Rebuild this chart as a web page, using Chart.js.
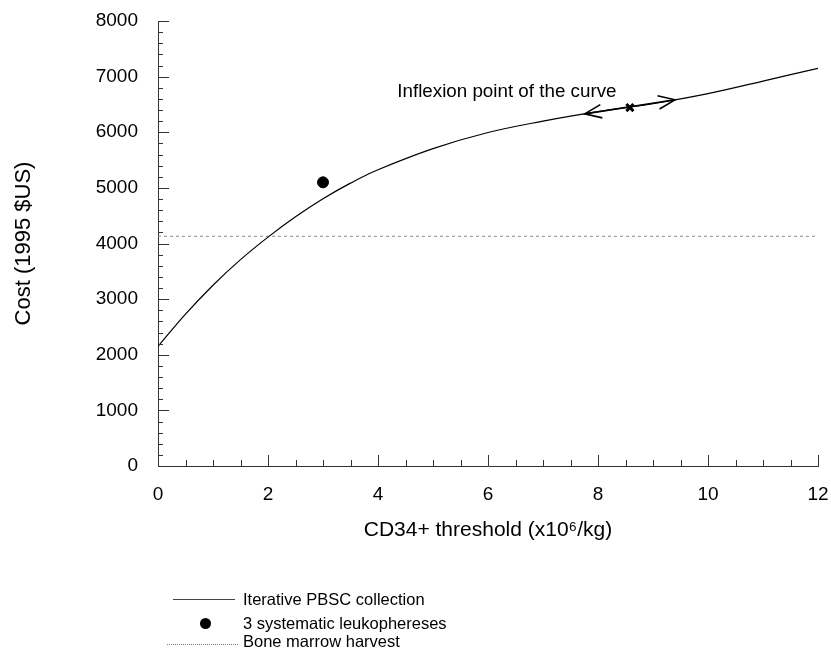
<!DOCTYPE html>
<html><head><meta charset="utf-8">
<script src="https://cdn.jsdelivr.net/npm/chart.js@4.4.1/dist/chart.umd.min.js"></script>
<style>
html,body{margin:0;padding:0;background:#fff}
#wrap{position:relative;width:831px;height:649px;overflow:hidden}
canvas{display:block}
.lg{position:absolute;font-family:'Liberation Sans',Arial,sans-serif;font-size:16.5px;line-height:20px;color:#000;white-space:nowrap}
</style></head><body>
<div id="wrap">
<canvas id="c" width="831" height="649"></canvas>
<div style="position:absolute;left:173px;top:599px;width:62px;border-top:1px solid #444"></div>
<span class="lg" style="left:243px;top:589px">Iterative PBSC collection</span>
<div style="position:absolute;left:200px;top:618px;width:11px;height:11px;border-radius:50%;background:#000"></div>
<span class="lg" style="left:243px;top:613px">3 systematic leukophereses</span>
<div style="position:absolute;left:167px;top:644px;width:71px;border-top:1px dotted #777"></div>
<span class="lg" style="left:243px;top:631px">Bone marrow harvest</span>
</div>
<script>
// ---- data ----
const costX = [0, 0.5, 1, 1.5, 2, 2.5, 3, 3.5, 4, 5, 6, 7, 8, 9, 10, 11, 12];
const costY = [2150, 2730, 3250, 3710, 4115, 4480, 4805, 5085, 5325, 5705, 5995, 6200, 6370, 6515, 6695, 6920, 7150];
const leukX = [3];
const leukY = [5100];
const marrowX = [0, 12];
const marrowY = [4130, 4130];
const arrowX = [7.76, 9.40];
const arrowY = [6331, 6583];
const inflexX = [8.58];
const inflexY = [6444];
const noteX = [4.35];
const noteY = [6730];
const noteText = ['Inflexion point of the curve'];
const xTickLabels = [0, 2, 4, 6, 8, 10, 12];
const yTickLabels = [0, 1000, 2000, 3000, 4000, 5000, 6000, 7000, 8000];
const seriesNames = ['Iterative PBSC collection', '3 systematic leukophereses', 'Bone marrow harvest'];

const FONT = "'Liberation Sans', Arial, sans-serif";
const zip = (xs, ys) => xs.map((x, i) => ({x, y: ys[i]}));

const extras = {
  id: 'extras',
  afterDatasetsDraw(chart) {
    const ctx = chart.ctx;
    const xs = chart.scales.x, ys = chart.scales.y;
    const meta = chart.getDatasetMeta(3);
    const p0 = meta.data[0], p1 = meta.data[1];
    const head = (tip, from) => {
      const ang = Math.atan2(tip.y - from.y, tip.x - from.x);
      const L = 18, a = 0.38;
      ctx.beginPath();
      ctx.moveTo(tip.x - L * Math.cos(ang - a), tip.y - L * Math.sin(ang - a));
      ctx.lineTo(tip.x, tip.y);
      ctx.lineTo(tip.x - L * Math.cos(ang + a), tip.y - L * Math.sin(ang + a));
      ctx.stroke();
    };
    ctx.save();
    ctx.strokeStyle = '#000'; ctx.lineWidth = 1.6; ctx.lineJoin = 'miter';
    head(p0, p1); head(p1, p0);
    ctx.fillStyle = '#000';
    ctx.font = '18.8px ' + FONT;
    ctx.textAlign = 'left'; ctx.textBaseline = 'middle';
    noteText.forEach((t, i) => ctx.fillText(t, xs.getPixelForValue(noteX[i]), ys.getPixelForValue(noteY[i])));
    ctx.restore();
  },
  afterDraw(chart) {
    const ctx = chart.ctx;
    const xs = chart.scales.x, ys = chart.scales.y;
    const a = chart.chartArea;
    ctx.save();
    ctx.strokeStyle = '#333'; ctx.lineWidth = 1;
    ctx.beginPath();
    for (let v = 0; v <= 8000; v += 200) {
      const y = Math.round(ys.getPixelForValue(v)) + 0.5;
      const len = v % 1000 === 0 ? 11 : 5;
      ctx.moveTo(a.left, y); ctx.lineTo(a.left + len, y);
    }
    for (let v = 0; v <= 12; v += 0.5) {
      const x = Math.round(xs.getPixelForValue(v)) + 0.5;
      const len = v % 2 === 0 ? 11 : 6;
      ctx.moveTo(x, a.bottom); ctx.lineTo(x, a.bottom - len);
    }
    ctx.stroke();
    ctx.restore();
  }
};

new Chart(document.getElementById('c'), {
  type: 'scatter',
  data: {
    datasets: [
      { label: seriesNames[0], data: zip(costX, costY), showLine: true, borderColor: '#000', borderWidth: 1.2,
        pointRadius: 0, tension: 0.4, fill: false },
      { label: seriesNames[1], data: zip(leukX, leukY), showLine: false, backgroundColor: '#000', borderColor: '#000',
        pointRadius: 5.5, pointStyle: 'circle' },
      { label: seriesNames[2], data: zip(marrowX, marrowY), showLine: true, borderColor: '#8a8a8a', borderWidth: 1,
        borderDash: [3, 3], pointRadius: 0, fill: false },
      { label: 'arrow', data: zip(arrowX, arrowY), showLine: true, borderColor: '#000', borderWidth: 1.6,
        pointRadius: 0, fill: false },
      { label: 'inflexion', data: zip(inflexX, inflexY), showLine: false, borderColor: '#000', borderWidth: 3,
        pointStyle: 'crossRot', pointRadius: 5 }
    ]
  },
  options: {
    responsive: false, animation: false, devicePixelRatio: 1,
    layout: { padding: { left: 0, right: 13, top: 21, bottom: 106 } },
    plugins: { legend: { display: false }, tooltip: { enabled: false } },
    scales: {
      x: {
        type: 'linear', min: 0, max: 12, position: 'bottom',
        grid: { display: true, drawOnChartArea: false, drawTicks: false },
        border: { display: true, color: '#333', width: 1 },
        ticks: { stepSize: 0.5, autoSkip: false, maxRotation: 0, padding: 17, color: '#000',
          font: { family: FONT, size: 19 },
          callback: v => xTickLabels.includes(v) ? String(v) : '' },
        title: { display: true, text: 'CD34+ threshold (x10⁶/kg)', color: '#000',
          font: { family: FONT, size: 21 }, padding: { top: 0, bottom: 0 } },
        afterFit: s => { s.height = 77; s.paddingLeft = 0; s.paddingRight = 0; }
      },
      y: {
        type: 'linear', min: 0, max: 8000,
        grid: { display: true, drawOnChartArea: false, drawTicks: false },
        border: { display: true, color: '#333', width: 1 },
        ticks: { stepSize: 200, autoSkip: false, padding: 20, color: '#000',
          font: { family: FONT, size: 19 },
          callback: v => yTickLabels.includes(v) ? String(v) : '' },
        title: { display: true, text: 'Cost (1995 $US)', color: '#000',
          font: { family: FONT, size: 22 }, padding: { top: 11, bottom: 0 } },
        afterFit: s => { s.width = 158; s.paddingTop = 0; s.paddingBottom = 0; }
      }
    }
  },
  plugins: [extras]
});
</script>
</body></html>
